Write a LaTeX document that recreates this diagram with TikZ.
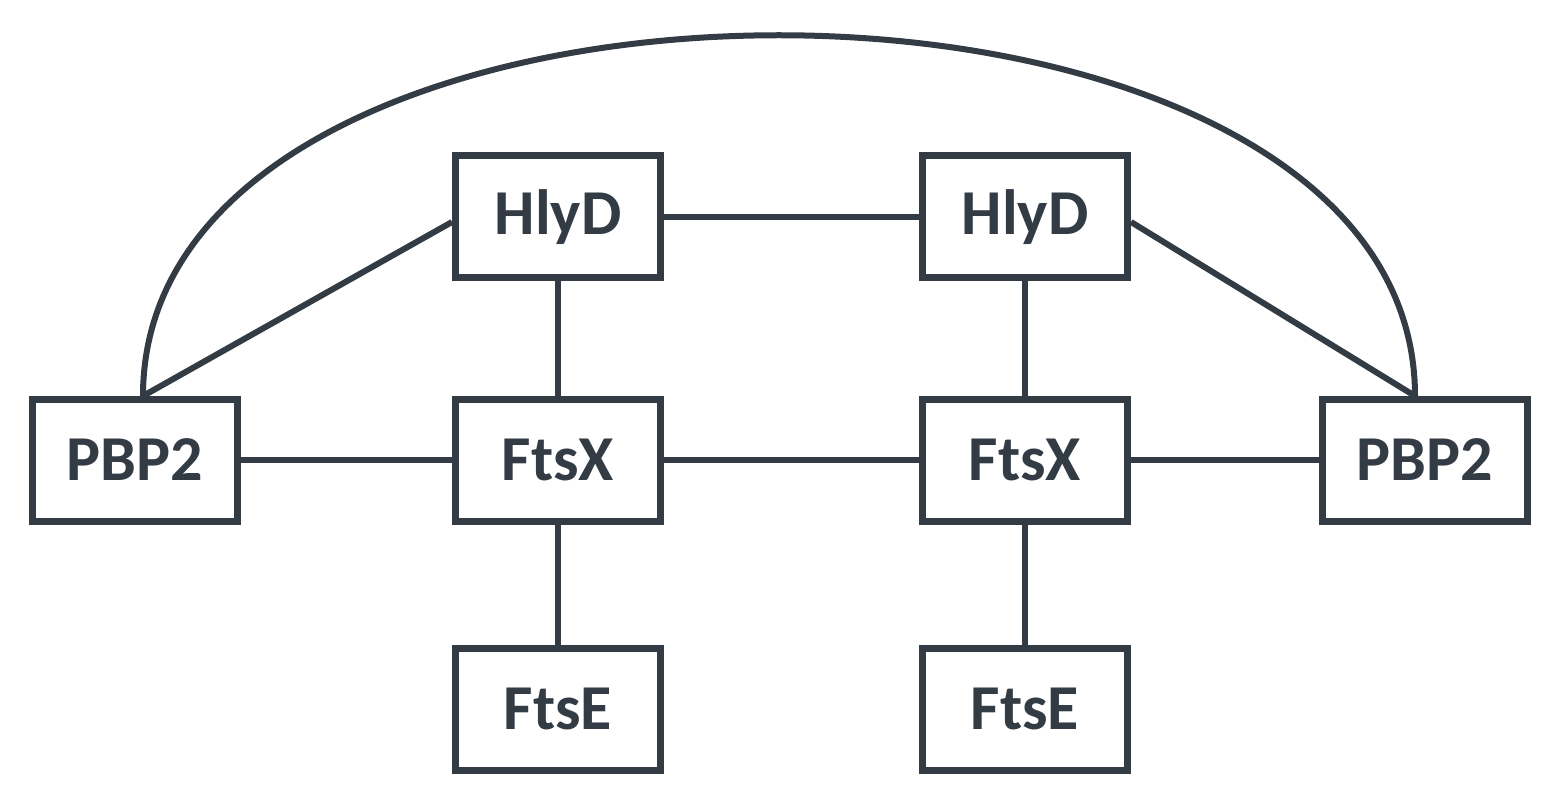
\documentclass[tikz,border=0pt]{standalone}
\usepackage{fontspec}
\setmainfont{Carlito}
\definecolor{ink}{HTML}{333C44}
\begin{document}
\begin{tikzpicture}[x=1pt,y=-1pt,
  box/.style={draw=ink,line width=7pt,minimum width=205pt,minimum height=122pt,inner sep=0pt,font=\fontsize{64}{70}\selectfont\bfseries,text=ink},
  link/.style={draw=ink,line width=6pt}]
\useasboundingbox (0,0) rectangle (1547,802);
\node[box] (h1) at (558,217) {HlyD};
\node[box] (h2) at (1025,217) {HlyD};
\node[box] (p1) at (135,460) {PBP2};
\node[box] (x1) at (558,460) {FtsX};
\node[box] (x2) at (1025,460) {FtsX};
\node[box] (p2) at (1425,460) {PBP2};
\node[box] (e1) at (558,709) {FtsE};
\node[box] (e2) at (1025,709) {FtsE};
\coordinate (a1) at (143,396);
\coordinate (a2) at (1415,396);
\draw[link] (h1) -- (h2);
\draw[link] (p1) -- (x1);
\draw[link] (x1) -- (x2);
\draw[link] (x2) -- (p2);
\draw[link] (h1) -- (x1);
\draw[link] (h2) -- (x2);
\draw[link] (x1) -- (e1);
\draw[link] (x2) -- (e2);
\draw[link] (a1) -- (h1.west |- 0,222);
\draw[link] (a2) -- (h2.east |- 0,222);
\draw[link] (a1) .. controls (143,-85) and (1415,-85) .. (a2);
\end{tikzpicture}
\end{document}
